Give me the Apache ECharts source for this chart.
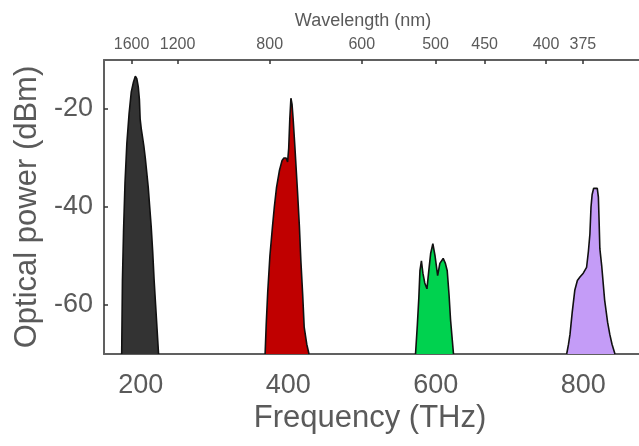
<!DOCTYPE html>
<html>
<head>
<meta charset="utf-8">
<script src="https://cdn.jsdelivr.net/npm/echarts@6/dist/echarts.min.js"></script>
<style>html,body{margin:0;padding:0;background:#fff;}#chart{width:639px;height:446px;}</style>
</head>
<body>
<div id="chart"></div>
<script>
// Frequency axis ticks (THz) and wavelength tick labels (nm)
const freqTicks = [200, 400, 600, 800];
const powerTicks = [-20, -40, -60];
const wavelengthTicks = [1600, 1200, 800, 600, 500, 450, 400, 375];

// Spectra: [frequency THz, optical power dBm]
const blackSpectrum = [[174,-70],[175,-55],[176.5,-45],[178.5,-35],[181,-27],[184,-21],[187,-16.5],[190,-14.5],[192.5,-13.3],[194.5,-13.8],[196.5,-15.5],[198,-18],[199,-22],[200.5,-24],[202,-25.5],[204,-27.5],[206,-30],[208,-33],[210,-36],[212,-40],[214,-44],[216,-49],[218,-55],[220,-60],[222,-65],[224,-70]];
const redSpectrum = [[368.5,-70],[370,-64],[372,-57.5],[375,-50],[378.5,-44],[381,-40],[384,-36],[388,-32.5],[391.5,-30.5],[394,-30],[397,-30],[399,-30.8],[400.5,-28],[402,-22],[403.5,-17.8],[405,-19],[406.5,-22],[409,-28],[412.5,-37],[415,-44],[417,-51],[419.5,-58],[421.5,-64.5],[423.5,-66.5],[425,-68],[428,-70]];
const greenSpectrum = [[572.5,-70],[575,-64],[577,-58.5],[578.5,-53],[580.5,-51],[582.5,-53.5],[585,-55.5],[588,-56.7],[590.5,-53],[593,-49.5],[596,-47.5],[599,-50],[602.5,-54],[605.5,-51.5],[610,-50.5],[613,-51.5],[615.5,-53],[618,-58],[620,-63],[624,-70]];
const purpleSpectrum = [[777.5,-70],[780,-68],[782,-66],[785,-61.5],[788.5,-57],[792,-55],[795.5,-54.3],[800,-53.5],[804.5,-52.3],[807,-49],[809,-45.5],[810.5,-40],[812,-37.5],[814,-36.2],[816.5,-35.8],[819,-36.2],[820.5,-38],[821.5,-43],[822.5,-48.5],[825,-52],[829,-59],[833,-63.5],[836,-66],[839,-68],[843,-70]];

const C_NM_THZ = 299792.458;
const wlFreqs = wavelengthTicks.map(w => C_NM_THZ / w);

const FONT = "'Liberation Sans', Arial, sans-serif";
const TXT = '#5a5a5a';
const FRAME = '#606060';

function spectrum(data, fill) {
  return {
    type: 'line', data: data, symbol: 'none', smooth: false,
    lineStyle: { color: '#111', width: 1.6 },
    areaStyle: { color: fill, opacity: 1, origin: 'start' },
    silent: true
  };
}

const chart = echarts.init(document.getElementById('chart'), null, { renderer: 'canvas' });
chart.setOption({
  animation: false,
  backgroundColor: '#fff',
  grid: { left: 104, top: 60, width: 553, height: 294, containLabel: false, outerBoundsMode: 'none' },
  xAxis: [{
    type: 'value', position: 'bottom', min: 150, max: 900,
    axisLine: { show: true, lineStyle: { color: FRAME, width: 2 } },
    axisTick: { show: false },
    splitLine: { show: false },
    axisLabel: { customValues: freqTicks, margin: 18, fontSize: 27, color: TXT, fontFamily: FONT }
  }, {
    type: 'value', position: 'top', min: 150, max: 900,
    axisLine: { show: true, lineStyle: { color: FRAME, width: 2 } },
    axisTick: { show: true, inside: true, length: 4, customValues: wlFreqs, lineStyle: { color: '#333', width: 1.5 } },
    splitLine: { show: false },
    axisLabel: {
      customValues: wlFreqs, margin: 7, fontSize: 16, color: TXT, fontFamily: FONT,
      formatter: v => String(Math.round(C_NM_THZ / v / 25) * 25)
    }
  }],
  yAxis: {
    type: 'value', min: -70, max: -10, interval: 10,
    name: 'Optical power (dBm)', nameLocation: 'middle', nameGap: 60, nameRotate: 90,
    nameTextStyle: { fontSize: 31, color: TXT, fontFamily: FONT },
    axisLine: { show: true, lineStyle: { color: FRAME, width: 2 } },
    axisTick: { show: true, inside: true, length: 4, customValues: powerTicks, lineStyle: { color: '#333', width: 1.5 } },
    splitLine: { show: false },
    axisLabel: { customValues: powerTicks, margin: 11, fontSize: 27, color: TXT, fontFamily: FONT }
  },
  graphic: [
    { type: 'text', x: 363, y: 21, style: { text: 'Wavelength (nm)', fontSize: 18, fill: TXT, fontFamily: FONT, textAlign: 'center', textVerticalAlign: 'middle' } },
    { type: 'text', x: 370, y: 418, style: { text: 'Frequency (THz)', fontSize: 31, fill: TXT, fontFamily: FONT, textAlign: 'center', textVerticalAlign: 'middle' } }
  ],
  series: [
    spectrum(blackSpectrum, '#333333'),
    spectrum(redSpectrum, '#c00000'),
    spectrum(greenSpectrum, '#00d24f'),
    spectrum(purpleSpectrum, '#c49cf7')
  ]
});
</script>
</body>
</html>
